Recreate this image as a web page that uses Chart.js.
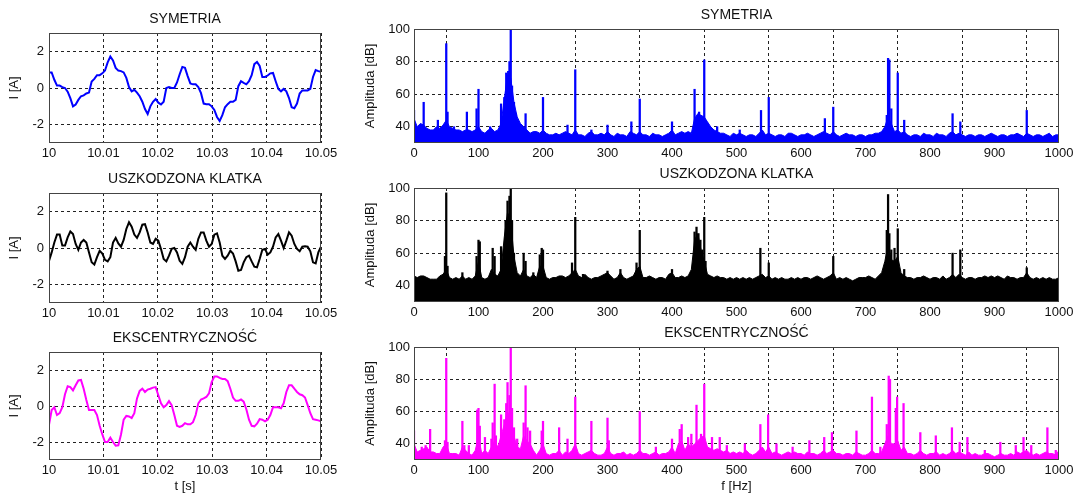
<!DOCTYPE html>
<html>
<head>
<meta charset="utf-8">
<script src="https://cdn.jsdelivr.net/npm/chart.js@4.4.0/dist/chart.umd.min.js"></script>
<style>
  body { margin: 0; width: 1082px; height: 493px; overflow: hidden; background: #fff; position: relative; }
  canvas { position: absolute; }
</style>
</head>
<body>
<canvas id="t_sym" width="341" height="159" style="left:0px;top:6px"></canvas>
<canvas id="t_klatka" width="341" height="159" style="left:0px;top:166px"></canvas>
<canvas id="t_eksc" width="341" height="170" style="left:0px;top:325px"></canvas>
<canvas id="f_sym" width="729" height="163" style="left:350px;top:2px"></canvas>
<canvas id="f_klatka" width="729" height="163" style="left:350px;top:161px"></canvas>
<canvas id="f_eksc" width="729" height="175" style="left:350px;top:320px"></canvas>
<script>
// osie
const czasStart = 10;
const czasKrok = 0.05 / 102;
const tTicks = [10, 10.01, 10.02, 10.03, 10.04, 10.05];
const tTickLabels = ['10', '10.01', '10.02', '10.03', '10.04', '10.05'];
const iTicks = [-2, 0, 2];
const fTicks = [0, 100, 200, 300, 400, 500, 600, 700, 800, 900, 1000];
const fTickLabels = ['0', '100', '200', '300', '400', '500', '600', '700', '800', '900', '1000'];
const dbTicks = [40, 60, 80, 100];
const fKrok = 5;

// prad w czasie [A]
const prad_sym = [
    0.85, 0.85, 0.45, 0.13, 0.13, 0.05, 0.0, -0.2, -0.55, -1.0,
    -0.9, -0.65, -0.45, -0.4, -0.3, -0.25, 0.35, 0.5, 0.7, 0.7,
    0.8, 0.95, 1.4, 1.72, 1.5, 1.1, 0.95, 0.92, 0.85, 0.55,
    0.05, -0.18, -0.1, -0.25, -0.45, -0.75, -1.15, -1.42, -1.0, -0.75,
    -0.6, -0.8, -0.9, -0.75, 0.0, 0.05, 0.0, 0.0, 0.3, 0.75,
    1.15, 1.1, 0.65, 0.25, 0.2, 0.2, 0.05, -0.28, -0.85, -0.88,
    -0.88, -1.0, -1.2, -1.58, -1.8, -1.48, -1.05, -0.88, -0.75, -0.75,
    -0.65, 0.1, 0.37, 0.28, 0.2, 0.37, 0.7, 1.3, 1.42, 1.2,
    0.6, 0.6, 0.68, 0.8, 0.82, 0.37, -0.05, -0.18, -0.05, -0.18,
    -0.55, -1.05, -1.1, -0.85, -0.3, -0.13, -0.13, -0.13, -0.05, 0.6,
    0.98, 0.92, 0.88
];
const prad_klatka = [
    -0.7, -0.24, 0.3, 0.73, 0.73, 0.13, 0.13, 0.58, 0.9, 0.76,
    0.22, -0.1, 0.3, 0.44, 0.3, -0.24, -0.78, -0.9, -0.5, -0.15,
    -0.3, -0.65, -0.73, -0.5, 0.3, 0.55, 0.25, 0.07, 0.44, 1.04,
    1.4, 1.16, 0.73, 0.55, 0.85, 1.27, 1.3, 0.85, 0.3, 0.22,
    0.5, 0.4, -0.05, -0.6, -0.73, -0.42, -0.05, 0.0, -0.24, -0.7,
    -0.87, -0.5, 0.07, 0.3, 0.07, -0.1, 0.5, 0.85, 0.85, 0.4,
    0.07, 0.22, 0.73, 0.8, 0.3, -0.42, -0.6, -0.42, -0.15, -0.3,
    -0.73, -1.24, -1.2, -0.78, -0.5, -0.42, -0.73, -1.02, -1.05, -0.6,
    -0.1, -0.05, -0.36, -0.24, 0.07, 0.58, 0.76, 0.4, 0.0, 0.4,
    0.85, 0.67, 0.22, -0.05, -0.18, 0.07, 0.09, 0.07, -0.18, -0.78,
    -0.84, -0.24, 0.07
];
const prad_eksc = [
    -1.04, -0.22, -0.07, -0.5, -0.4, -0.07, 0.65, 1.1, 1.05, 0.87,
    1.15, 1.42, 1.45, 0.96, 0.33, -0.22, -0.22, -0.22, -0.5, -1.1,
    -1.58, -2.0, -2.0, -1.76, -2.0, -2.2, -2.18, -1.58, -0.76, -0.55,
    -0.58, -0.67, -0.4, 0.42, 0.84, 0.96, 0.78, 0.91, 0.96, 1.02,
    1.05, 0.6, 0.15, -0.07, 0.05, 0.27, 0.05, -0.5, -1.1, -1.16,
    -1.1, -0.95, -1.02, -1.02, -0.9, -0.5, 0.15, 0.36, 0.42, 0.5,
    0.7, 1.33, 1.64, 1.64, 1.56, 1.5, 1.5, 1.38, 0.96, 0.47,
    0.29, 0.29, 0.36, 0.24, -0.18, -0.76, -1.1, -1.13, -0.98, -0.73,
    -0.76, -0.85, -0.76, -0.5, -0.07, -0.07, -0.07, -0.13, 0.15, 0.78,
    1.15, 1.15, 0.96, 0.78, 0.65, 0.6, 0.47, 0.05, -0.4, -0.73,
    -0.76, -0.8, -0.85
];

// widmo - tlo co 5 Hz [dB]
const tlo_sym = [
    45, 40, 42, 41, 39, 38, 38, 40, 39, 41,
    44, 40, 39, 38, 38, 37, 38, 38, 37, 38,
    40, 37, 36, 38, 39, 37, 38, 42, 57, 72,
    70, 55, 46, 42, 40, 38, 36, 37, 37, 36,
    38, 36, 35, 35, 36, 35, 36, 37, 36, 35,
    38, 35, 35, 34, 36, 37, 35, 35, 36, 35,
    37, 35, 34, 36, 35, 35, 34, 37, 36, 35,
    37, 35, 35, 34, 36, 35, 35, 34, 35, 36,
    38, 35, 36, 37, 36, 37, 36, 45, 48, 47,
    46, 43, 40, 38, 37, 36, 36, 35, 34, 36,
    35, 36, 35, 34, 35, 35, 34, 36, 38, 35,
    36, 35, 34, 35, 35, 34, 36, 36, 35, 34,
    35, 35, 36, 35, 34, 35, 36, 37, 36, 35,
    37, 35, 34, 35, 36, 35, 35, 34, 35, 35,
    34, 35, 35, 36, 36, 37, 40, 46, 42, 37,
    38, 36, 37, 35, 34, 35, 35, 34, 36, 35,
    35, 34, 36, 35, 35, 34, 36, 37, 35, 36,
    35, 34, 35, 35, 34, 35, 35, 34, 35, 36,
    35, 34, 35, 35, 34, 35, 35, 36, 35, 34,
    36, 35, 34, 35, 35, 34, 35, 36, 34, 35,
    35
];
const piki_sym = [
    [0, 50], [15, 55], [37, 44], [50, 91], [52, 49], [62, 40], [82, 49], [97, 51], [100, 63], [118, 40],
    [135, 54], [140, 58], [143, 73], [146, 74], [148, 80], [150, 100], [152, 65], [155, 55], [158, 48], [173, 48],
    [200, 58], [238, 41], [250, 75], [275, 38], [300, 41], [337, 43], [350, 57], [400, 43], [435, 63], [442, 49],
    [450, 81], [470, 40], [505, 38], [538, 50], [550, 58], [637, 45], [650, 52], [733, 47], [735, 82], [737, 81],
    [740, 51], [750, 73], [760, 44], [835, 48], [847, 43], [950, 50]
];

const tlo_klatka = [
    46, 45, 46, 46, 45, 44, 44, 44, 46, 47,
    50, 45, 44, 45, 44, 46, 44, 45, 44, 46,
    55, 45, 44, 45, 50, 47, 46, 50, 70, 85,
    80, 58, 48, 46, 50, 46, 45, 47, 45, 52,
    52, 45, 44, 45, 45, 46, 46, 45, 46, 48,
    50, 46, 45, 47, 45, 44, 45, 45, 46, 47,
    48, 46, 44, 45, 48, 45, 44, 45, 46, 50,
    52, 45, 45, 46, 45, 44, 45, 45, 44, 47,
    48, 45, 45, 46, 45, 46, 50, 68, 72, 62,
    55, 47, 46, 45, 46, 45, 45, 44, 45, 44,
    45, 44, 45, 44, 45, 44, 45, 46, 47, 45,
    46, 44, 45, 44, 45, 44, 44, 45, 44, 45,
    44, 45, 45, 44, 45, 46, 45, 44, 45, 46,
    48, 44, 45, 44, 45, 44, 43, 44, 45, 45,
    45, 46, 45, 44, 46, 48, 55, 65, 56, 55,
    58, 48, 46, 45, 45, 44, 45, 45, 46, 45,
    44, 45, 45, 44, 46, 44, 45, 47, 45, 47,
    45, 44, 45, 45, 44, 45, 45, 46, 45, 46,
    45, 46, 45, 44, 46, 45, 45, 44, 45, 45,
    48, 45, 44, 45, 44, 45, 44, 45, 44, 44,
    45
];
const piki_klatka = [
    [48, 58], [50, 97], [52, 52], [75, 48], [97, 58], [100, 68], [102, 67], [122, 63], [125, 58], [135, 64],
    [138, 53], [142, 80], [145, 92], [148, 95], [150, 100], [152, 80], [155, 60], [170, 60], [173, 55], [185, 48],
    [195, 59], [198, 63], [200, 62], [245, 54], [250, 82], [262, 47], [300, 49], [320, 50], [345, 54], [350, 74],
    [400, 50], [435, 73], [438, 76], [441, 72], [444, 68], [447, 62], [450, 82], [452, 55], [537, 63], [550, 54],
    [650, 58], [733, 74], [735, 96], [737, 72], [740, 62], [745, 63], [750, 75], [760, 50], [835, 60], [847, 62],
    [950, 51]
];

const tlo_eksc = [
    40, 35, 36, 37, 38, 35, 35, 34, 34, 38,
    40, 34, 34, 34, 33, 38, 36, 34, 33, 36,
    45, 34, 36, 34, 38, 42, 38, 45, 52, 60,
    55, 45, 38, 37, 45, 42, 40, 36, 33, 36,
    40, 34, 33, 34, 34, 36, 33, 35, 34, 36,
    40, 34, 33, 34, 35, 36, 34, 33, 33, 34,
    38, 34, 33, 34, 34, 35, 33, 34, 33, 34,
    36, 34, 34, 33, 34, 35, 33, 34, 34, 35,
    38, 34, 40, 42, 36, 40, 38, 40, 42, 44,
    45, 38, 37, 36, 37, 36, 35, 36, 34, 35,
    34, 35, 34, 36, 34, 33, 34, 36, 38, 35,
    38, 34, 35, 34, 33, 34, 35, 34, 35, 34,
    34, 33, 35, 34, 34, 33, 34, 36, 34, 35,
    36, 34, 34, 33, 34, 34, 33, 35, 34, 33,
    33, 34, 36, 34, 34, 35, 40, 45, 40, 40,
    42, 36, 38, 34, 34, 33, 34, 36, 34, 33,
    34, 34, 35, 33, 34, 33, 34, 36, 34, 35,
    34, 33, 35, 33, 34, 33, 33, 34, 34, 33,
    32, 33, 34, 33, 33, 34, 33, 35, 34, 35,
    36, 34, 33, 34, 33, 34, 35, 34, 34, 33,
    36
];
const piki_eksc = [
    [0, 48], [12, 38], [18, 39], [25, 49], [48, 42], [50, 93], [52, 41], [75, 54], [78, 39], [85, 39],
    [98, 61], [100, 62], [102, 51], [110, 44], [120, 43], [122, 53], [125, 77], [127, 45], [135, 58], [140, 55],
    [143, 65], [145, 78], [148, 70], [150, 100], [152, 62], [155, 50], [160, 43], [170, 53], [173, 76], [176, 50],
    [180, 48], [198, 48], [200, 54], [225, 50], [238, 43], [250, 69], [275, 54], [300, 56], [302, 42], [350, 60],
    [375, 38], [400, 43], [412, 49], [415, 52], [425, 44], [430, 46], [438, 64], [445, 46], [450, 77], [462, 44],
    [474, 44], [485, 39], [513, 40], [537, 52], [549, 58], [562, 40], [587, 38], [613, 42], [636, 44], [648, 47],
    [686, 48], [710, 69], [723, 38], [733, 52], [736, 82], [738, 80], [747, 62], [749, 69], [759, 65], [785, 47],
    [809, 45], [834, 50], [846, 41], [858, 44], [885, 36], [909, 41], [933, 39], [945, 44], [957, 39], [982, 50],
    [995, 36]
];

Chart.defaults.font.family = '"Liberation Sans", Arial, sans-serif';
Chart.defaults.font.size = 13;
Chart.defaults.color = '#111';

// ramka wokol wykresu
const ramka = {
    id: 'ramka',
    afterDatasetsDraw(chart) {
        const a = chart.chartArea;
        const ctx = chart.ctx;
        ctx.save();
        ctx.strokeStyle = '#444';
        ctx.lineWidth = 1;
        ctx.strokeRect(a.left + 0.5, a.top + 0.5, a.right - a.left - 1, a.bottom - a.top - 1);
        ctx.restore();
    }
};

const siatka = { color: '#222', lineWidth: 1, drawTicks: false };
const siatkaBorder = { display: false, dash: [3, 3] };

function tytulWykresu(text) {
    return {
        display: true,
        text: text,
        fullSize: false,
        color: '#111',
        font: { size: 14, weight: 'normal', lineHeight: 1 },
        padding: { top: 6.5, bottom: 6.5 }
    };
}

function wykresCzasu(id, tytul, dane, kolor, ostatni) {
    let punkty = dane.map((v, i) => ({ x: czasStart + i * czasKrok, y: v }));

    new Chart(document.getElementById(id), {
        type: 'line',
        data: {
            datasets: [{
                data: punkty,
                borderColor: kolor,
                borderWidth: 2,
                pointRadius: 0,
                tension: 0,
                fill: false
            }]
        },
        options: {
            responsive: false,
            animation: false,
            layout: { padding: { left: 0, right: 20, top: 0, bottom: 0 } },
            plugins: {
                legend: { display: false },
                tooltip: { enabled: false },
                title: tytulWykresu(tytul)
            },
            scales: {
                x: {
                    type: 'linear',
                    min: 10,
                    max: 10.05,
                    afterBuildTicks: s => { s.ticks = tTicks.map(v => ({ value: v })); },
                    afterFit: s => { s.height = ostatni ? 35 : 22; },
                    ticks: { callback: (v, i) => tTickLabels[i], padding: 3, maxRotation: 0, autoSkip: false },
                    grid: siatka,
                    border: siatkaBorder,
                    title: { display: ostatni, text: 't [s]', font: { size: 13 }, padding: { top: 0, bottom: 1.2 } }
                },
                y: {
                    min: -3,
                    max: 3,
                    afterBuildTicks: s => { s.ticks = iTicks.map(v => ({ value: v })); },
                    afterFit: s => { s.width = 49; },
                    ticks: { padding: 5 },
                    grid: siatka,
                    border: siatkaBorder,
                    title: { display: true, text: 'I [A]', font: { size: 13 }, padding: { top: 6.2, bottom: 0 } }
                }
            }
        },
        plugins: [ramka]
    });
}

function wykresWidma(id, tytul, tlo, piki, kolor, ostatni) {
    let punktyTla = tlo.map((v, i) => ({ x: i * fKrok, y: v }));
    let punktyPikow = piki.map(p => ({ x: p[0], y: p[1] }));

    new Chart(document.getElementById(id), {
        type: 'line',
        data: {
            datasets: [{
                type: 'bar',
                data: punktyPikow,
                backgroundColor: kolor,
                borderWidth: 0,
                barThickness: 1.6
            }, {
                type: 'line',
                data: punktyTla,
                borderColor: kolor,
                backgroundColor: kolor,
                borderWidth: 1,
                pointRadius: 0,
                tension: 0,
                fill: 'start'
            }]
        },
        options: {
            responsive: false,
            animation: false,
            layout: { padding: { left: 0, right: 20, top: 0, bottom: 0 } },
            plugins: {
                legend: { display: false },
                tooltip: { enabled: false },
                title: tytulWykresu(tytul)
            },
            scales: {
                x: {
                    type: 'linear',
                    min: 0,
                    max: 1000,
                    offset: false,
                    afterBuildTicks: s => { s.ticks = fTicks.map(v => ({ value: v })); },
                    afterFit: s => { s.height = ostatni ? 35 : 22; },
                    ticks: { callback: (v, i) => fTickLabels[i], padding: 3, maxRotation: 0, autoSkip: false },
                    grid: siatka,
                    border: siatkaBorder,
                    title: { display: ostatni, text: 'f [Hz]', font: { size: 13 }, padding: { top: 0, bottom: 1.2 } }
                },
                y: {
                    min: 30,
                    max: 100,
                    afterBuildTicks: s => { s.ticks = dbTicks.map(v => ({ value: v })); },
                    afterFit: s => { s.width = 64; },
                    ticks: { padding: 4 },
                    grid: siatka,
                    border: siatkaBorder,
                    title: { display: true, text: 'Amplituda [dB]', font: { size: 13 }, padding: { top: 12.2, bottom: 0 } }
                }
            }
        },
        plugins: [ramka]
    });
}

wykresCzasu('t_sym', 'SYMETRIA', prad_sym, '#0000ff', false);
wykresCzasu('t_klatka', 'USZKODZONA KLATKA', prad_klatka, '#000000', false);
wykresCzasu('t_eksc', 'EKSCENTRYCZNOŚĆ', prad_eksc, '#ff00ff', true);

wykresWidma('f_sym', 'SYMETRIA', tlo_sym, piki_sym, '#0000ff', false);
wykresWidma('f_klatka', 'USZKODZONA KLATKA', tlo_klatka, piki_klatka, '#000000', false);
wykresWidma('f_eksc', 'EKSCENTRYCZNOŚĆ', tlo_eksc, piki_eksc, '#ff00ff', true);
</script>
</body>
</html>
